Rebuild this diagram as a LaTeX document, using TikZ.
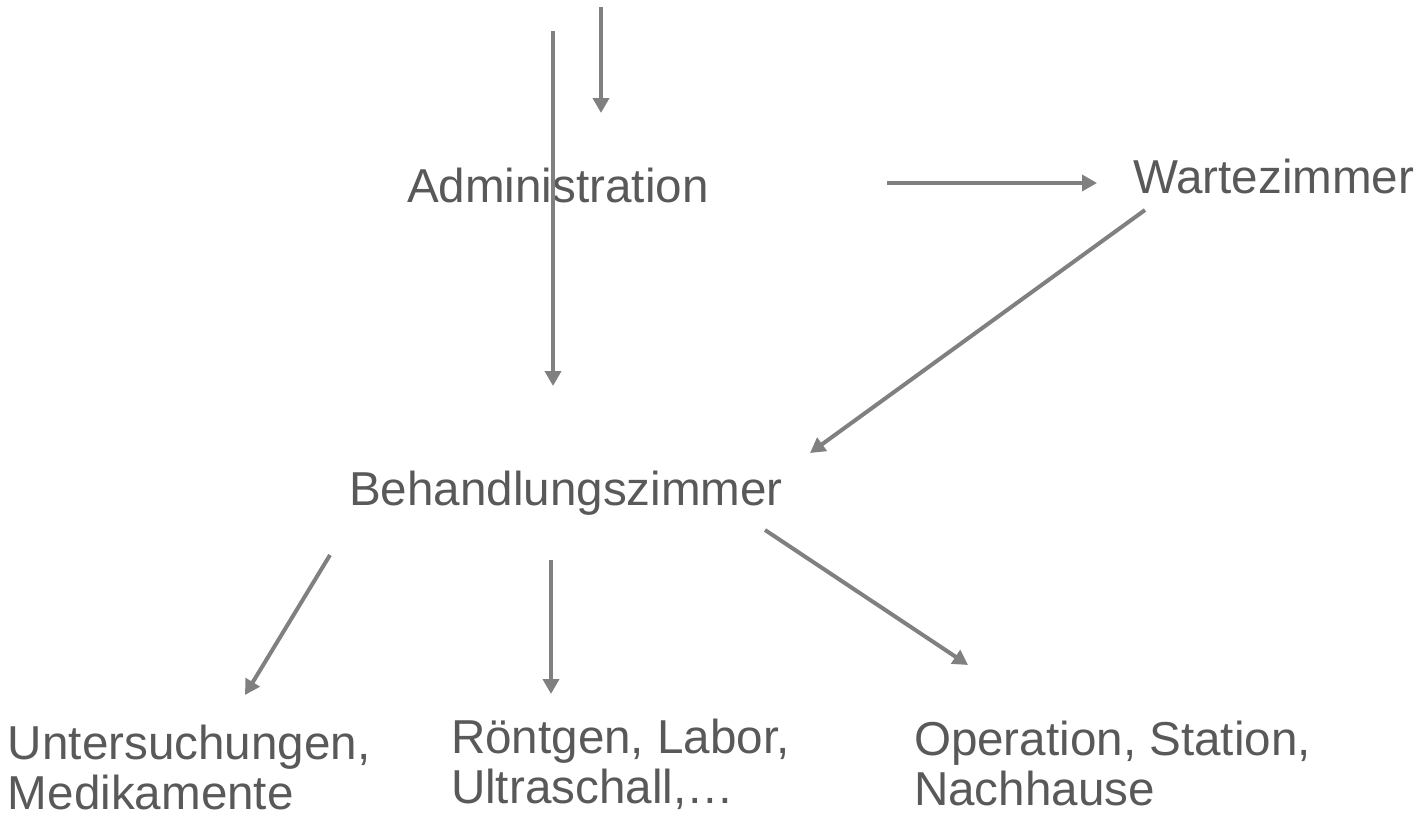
\documentclass[tikz,border=0pt]{standalone}
\usepackage{fontspec}
\setmainfont{Liberation Sans}
\usetikzlibrary{arrows.meta}
\definecolor{txtgray}{HTML}{595959}
\definecolor{linegray}{HTML}{808080}
\tikzset{
  lbl/.style={anchor=base west, inner sep=0pt, outer sep=0pt, text=txtgray, align=left,
    font=\fontsize{23.8}{25}\selectfont},
  flow/.style={draw=linegray, line width=2pt, -{Triangle[length=7.5pt,width=8pt]}}
}
\begin{document}
\begin{tikzpicture}[x=0.5pt,y=-0.5pt]
\useasboundingbox (0,0) rectangle (1422,819);
% labels (multi-line nodes: base = baseline of last line)
\node[lbl] (adm) at (407,202) {Administration};
\node[lbl] (wart) at (1133,193) {Wartezimmer};
\node[lbl] (beh) at (349,505) {Behandlungszimmer};
\node[lbl] (unt) at (8,809) {Untersuchungen,\\Medikamente};
\node[lbl] (roe) at (451,803) {Röntgen, Labor,\\Ultraschall,…};
\node[lbl] (op) at (914,805) {Operation, Station,\\Nachhause};
% connector ends
\coordinate (inA) at (601,7);
\coordinate (inAe) at (601,113);
\coordinate (inB) at (553,31);
\coordinate (inBe) at (553,386);
\coordinate (aw1) at (887,183);
\coordinate (aw2) at (1097,183);
\coordinate (wb1) at (1145,210);
\coordinate (wb2) at (810,453);
\coordinate (bu1) at (330,555);
\coordinate (bu2) at (245,695);
\coordinate (br1) at (551,560);
\coordinate (br2) at (551,694);
\coordinate (bo1) at (765,530);
\coordinate (bo2) at (968,665);
% connectors
\draw[flow] (inA) -- (inAe);
\draw[flow] (inB) -- (inBe);
\draw[flow] (aw1) -- (aw2);
\draw[flow] (wb1) -- (wb2);
\draw[flow] (bu1) -- (bu2);
\draw[flow] (br1) -- (br2);
\draw[flow] (bo1) -- (bo2);
\end{tikzpicture}
\end{document}
